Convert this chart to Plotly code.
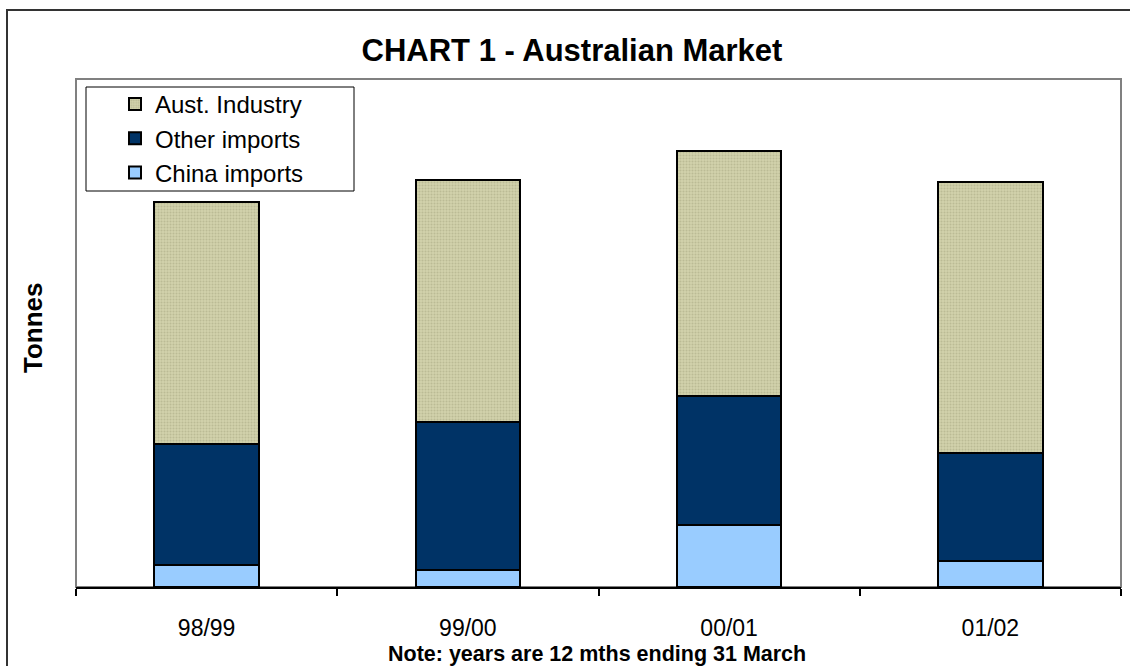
import plotly.graph_objects as go

years = ["98/99", "99/00", "00/01", "01/02"]
china_imports = [22, 17, 62, 26]
other_imports = [121, 148, 129, 108]
aust_industry = [242, 242, 245, 271]

L, R, T, B = 76, 9, 79, 79
W, H = 1130, 666
pw, ph = W - L - R, H - T - B

fig = go.Figure()
fig.add_trace(go.Bar(x=years, y=china_imports, name="China imports",
                     marker=dict(color="#99CCFF", line=dict(color="black", width=2))))
fig.add_trace(go.Bar(x=years, y=other_imports, name="Other imports",
                     marker=dict(color="#003366", line=dict(color="black", width=2))))
fig.add_trace(go.Bar(x=years, y=aust_industry, name="Aust. Industry",
                     marker=dict(color="#CACAA0", line=dict(color="black", width=2),
                                 pattern=dict(shape=".", size=3, solidity=0.4,
                                              fgcolor="#A4A47E", bgcolor="#D2D2AC"))))

def px_x(x):
    return (x - L) / pw

def px_y(y):
    return (H - B - y) / ph

fig.update_layout(
    width=W, height=H,
    margin=dict(l=L, r=R, t=T, b=B),
    paper_bgcolor="white", plot_bgcolor="white",
    barmode="stack", bargap=0.6,
    font=dict(family="Arial, Liberation Sans, sans-serif", color="black"),
    title=dict(text="<b>CHART 1 - Australian Market</b>", x=px_x(572), xanchor="center",
               xref="paper", y=1 - 50 / H, yanchor="middle", font=dict(size=31)),
    xaxis=dict(showline=True, linecolor="black", linewidth=1.5, ticks="outside",
               tickson="boundaries", ticklen=7, tickcolor="black", tickwidth=1.5,
               tickfont=dict(size=23), showgrid=False, ticklabelstandoff=20),
    yaxis=dict(range=[0, ph], showticklabels=False, showgrid=False, zeroline=False,
               ticks=""),
    legend=dict(x=px_x(115), y=px_y(82), xanchor="left", yanchor="top",
                traceorder="reversed", borderwidth=0,
                bgcolor="rgba(0,0,0,0)", font=dict(size=24), tracegroupgap=0),
    showlegend=True,
    annotations=[
        dict(text="<b>Note: years are 12 mths ending 31 March</b>", xref="paper", yref="paper",
             x=px_x(597), y=px_y(654), xanchor="center", yanchor="middle",
             showarrow=False, font=dict(size=21.5)),
        dict(text="<b>Tonnes</b>", xref="paper", yref="paper", textangle=-90,
             x=px_x(33), y=px_y(328), xanchor="center", yanchor="middle",
             showarrow=False, font=dict(size=26)),
    ],
    shapes=[
        dict(type="rect", xref="paper", yref="paper", x0=0, x1=1, y0=0, y1=1,
             line=dict(color="#808080", width=2), fillcolor="rgba(0,0,0,0)", layer="below"),
        dict(type="rect", xref="paper", yref="paper",
             x0=px_x(86), x1=px_x(354), y0=px_y(191), y1=px_y(87),
             line=dict(color="black", width=1), fillcolor="white", layer="below"),
        dict(type="rect", xref="paper", yref="paper",
             x0=px_x(7), x1=px_x(1140), y0=px_y(680), y1=px_y(10),
             line=dict(color="#333333", width=2), fillcolor="rgba(0,0,0,0)"),
    ],
)

fig.write_html("out.html")
